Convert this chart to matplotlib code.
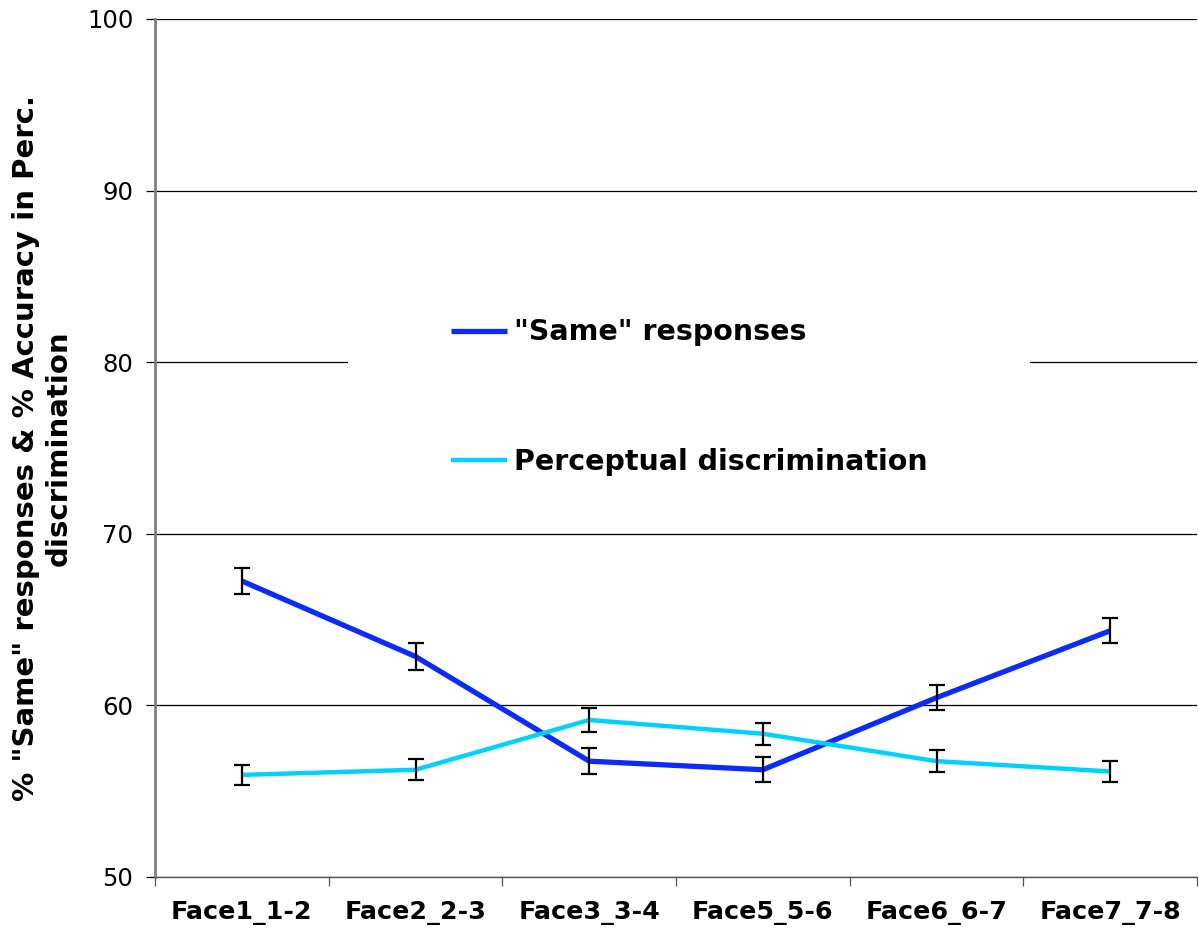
import matplotlib
matplotlib.use("Agg")
import matplotlib.pyplot as plt
from matplotlib.patches import Rectangle
import numpy as np

categories = ["Face1_1-2", "Face2_2-3", "Face3_3-4", "Face5_5-6", "Face6_6-7", "Face7_7-8"]
same_resp = [67.25, 62.85, 56.75, 56.25, 60.45, 64.35]
same_err = [0.75, 0.77, 0.74, 0.74, 0.73, 0.74]
perc_disc = [55.95, 56.25, 59.15, 58.35, 56.75, 56.15]
perc_err = [0.60, 0.61, 0.69, 0.63, 0.63, 0.60]
y_ticks = [50, 60, 70, 80, 90, 100]

plt.rcParams["font.family"] = ["DejaVu Sans"]

fig = plt.figure(figsize=(11.99, 9.33), dpi=100)
ax = fig.add_axes([155 / 1199, 1 - 877 / 933, 1042 / 1199, 858 / 933])

x = np.arange(len(categories))
l1, = ax.plot(x, same_resp, color="#0B2BFB", lw=3.8, solid_capstyle="butt", zorder=3,
              label='"Same" responses')
l2, = ax.plot(x, perc_disc, color="#00D2FF", lw=3.2, solid_capstyle="butt", zorder=3,
              label="Perceptual discrimination")
ax.errorbar(x, same_resp, yerr=same_err, fmt="none", ecolor="black", elinewidth=1.6,
            capsize=6, capthick=1.6, zorder=4)
ax.errorbar(x, perc_disc, yerr=perc_err, fmt="none", ecolor="black", elinewidth=1.6,
            capsize=6, capthick=1.6, zorder=4)

ax.set_xlim(-0.5, len(categories) - 0.5)
ax.set_ylim(50, 100)
ax.set_yticks(y_ticks)
ax.set_yticklabels([str(v) for v in y_ticks], fontsize=17.5)
ax.yaxis.grid(True, color="black", lw=0.9)
ax.set_axisbelow(True)

ax.set_xticks(x)
ax.set_xticklabels(categories, fontsize=18.3, fontweight="bold")
ax.set_xticks(np.arange(-0.5, len(categories)), minor=True)
ax.tick_params(axis="x", which="major", length=0, pad=17)
ax.tick_params(axis="x", which="minor", length=6.5, width=0.9, color="#555555", direction="out")
ax.tick_params(axis="y", length=6.5, width=0.9, direction="out", pad=9)

for s in ("top", "right"):
    ax.spines[s].set_visible(False)
ax.spines["left"].set_color("#808080")
ax.spines["left"].set_linewidth(2)
ax.spines["bottom"].set_color("#555555")
ax.spines["bottom"].set_linewidth(1)

ax.set_ylabel('% "Same" responses & % Accuracy in Perc.\ndiscrimination',
              fontsize=21, fontweight="bold", labelpad=10, linespacing=1.25)

# white backdrop behind the legend entries
ax.add_patch(Rectangle((0.1852, 0.4394), 0.6545, 0.2331, transform=ax.transAxes,
                       facecolor="white", edgecolor="none", zorder=2))

leg = ax.legend(handles=[l1, l2], loc="center", bbox_to_anchor=(0.513, 0.5594),
                prop={"weight": "bold", "size": 20.5}, frameon=False,
                labelspacing=3.55, borderpad=0, handlelength=1.96,
                handletextpad=0.25, borderaxespad=0)
leg.set_zorder(5)

fig.savefig("out.png", dpi=100)
